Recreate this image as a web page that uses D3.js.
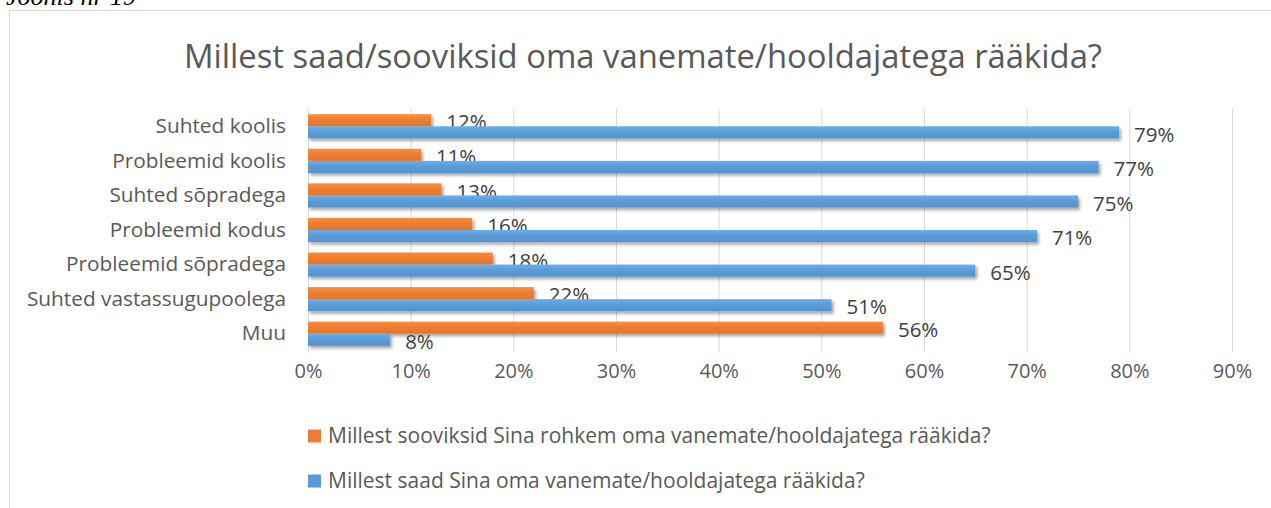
<!DOCTYPE html>
<html><head><meta charset="utf-8">
<script src="https://cdn.jsdelivr.net/npm/d3@7"></script>
<style>body{margin:0;background:#fff;overflow:hidden}svg{display:block}</style>
</head><body>
<script>
const categories = ["Suhted koolis","Probleemid koolis","Suhted sõpradega","Probleemid kodus","Probleemid sõpradega","Suhted vastassugupoolega","Muu"];
const seriesNames = ["Millest sooviksid Sina rohkem oma vanemate/hooldajatega rääkida?","Millest saad Sina oma vanemate/hooldajatega rääkida?"];
const wantValues = [12,11,13,16,18,22,56];
const canValues = [79,77,75,71,65,51,8];
const xTicks = [0,10,20,30,40,50,60,70,80,90];
const colors = ["#ED7D31","#5B9BD5"];

const W=1271,H=508;
const svg=d3.select("body").append("svg").attr("width",W).attr("height",H);
const defs=svg.append("defs");
const f=defs.append("filter").attr("id","sh").attr("x","-5%").attr("y","-50%").attr("width","115%").attr("height","250%");
f.append("feDropShadow").attr("dx",2).attr("dy",2.5).attr("stdDeviation",1.8).attr("flood-color","#000").attr("flood-opacity",0.35);
colors.forEach((c,i)=>{
  const g=defs.append("linearGradient").attr("id","g"+i).attr("x1",0).attr("y1",0).attr("x2",0).attr("y2",1);
  g.append("stop").attr("offset","0%").attr("stop-color",d3.color(c).brighter(0.35));
  g.append("stop").attr("offset","45%").attr("stop-color",c);
  g.append("stop").attr("offset","100%").attr("stop-color",d3.color(c).darker(0.15));
});

// caption above frame (cut off at top, as in the reference)
svg.append("text").attr("x",6).attr("y",5).attr("font-family","Liberation Serif").attr("font-style","italic")
  .attr("font-size",26).attr("fill","#000").text("Joonis nr 19");
// frame
svg.append("rect").attr("x",9.5).attr("y",10.5).attr("width",1300).attr("height",600).attr("fill","#fff").attr("stroke","#d9d9d9");

const font="Open Sans";
svg.append("text").attr("x",643).attr("y",68).attr("text-anchor","middle").attr("font-family",font)
  .attr("font-size",32.8).attr("fill","#595959").text("Millest saad/sooviksid oma vanemate/hooldajatega rääkida?");

const x=d3.scaleLinear().domain([0,90]).range([308,1232]);
const y=d3.scaleBand().domain(categories).range([109,351]).paddingInner(0.3).paddingOuter(0.15);
const sub=d3.scaleBand().domain([0,1]).range([0,y.bandwidth()]);

// gridlines
svg.append("g").selectAll("line").data(xTicks).join("line")
  .attr("x1",d=>x(d)+0.5).attr("x2",d=>x(d)+0.5).attr("y1",109).attr("y2",352)
  .attr("stroke","#d9d9d9").attr("stroke-width",1);

// x axis labels
const xa=svg.append("g").attr("transform","translate(0,352)").call(d3.axisBottom(x).tickValues(xTicks).tickFormat(d=>d+"%").tickSize(0).tickPadding(12));
xa.select(".domain").remove();
xa.selectAll("text").attr("font-family",font).attr("font-size",20).attr("fill","#595959");

// y axis labels
const ya=svg.append("g").attr("transform","translate(286,0)").call(d3.axisLeft(y).tickSize(0).tickPadding(0));
ya.select(".domain").remove();
ya.selectAll("text").attr("font-family",font).attr("font-size",20.8).attr("fill","#595959").attr("dy","0.32em");

const series=[wantValues,canValues];
series.forEach((vals,si)=>{
  const g=svg.append("g");
  g.selectAll("rect").data(categories).join("rect")
    .attr("x",x(0)).attr("y",c=>y(c)+sub(si)).attr("height",sub.bandwidth())
    .attr("width",(c,i)=>x(vals[i])-x(0)).attr("fill","url(#g"+si+")").attr("filter","url(#sh)");
  g.selectAll("text").data(categories).join("text")
    .attr("x",(c,i)=>x(vals[i])+15).attr("y",(c,i)=>y(c)+sub(si)+sub.bandwidth()/2+2)
    .attr("dy","0.35em").attr("font-family",font).attr("font-size",20.5).attr("fill","#404040")
    .text((c,i)=>vals[i]+"%");
});

// legend
const lg=svg.append("g");
seriesNames.forEach((n,i)=>{
  const ly=436+i*45;
  lg.append("rect").attr("x",308).attr("y",ly-6.5).attr("width",13).attr("height",13).attr("fill",colors[i]);
  lg.append("text").attr("x",328).attr("y",ly).attr("dy","0.35em").attr("font-family",font).attr("font-size",21).attr("fill","#595959").text(n);
});
</script>
</body></html>
